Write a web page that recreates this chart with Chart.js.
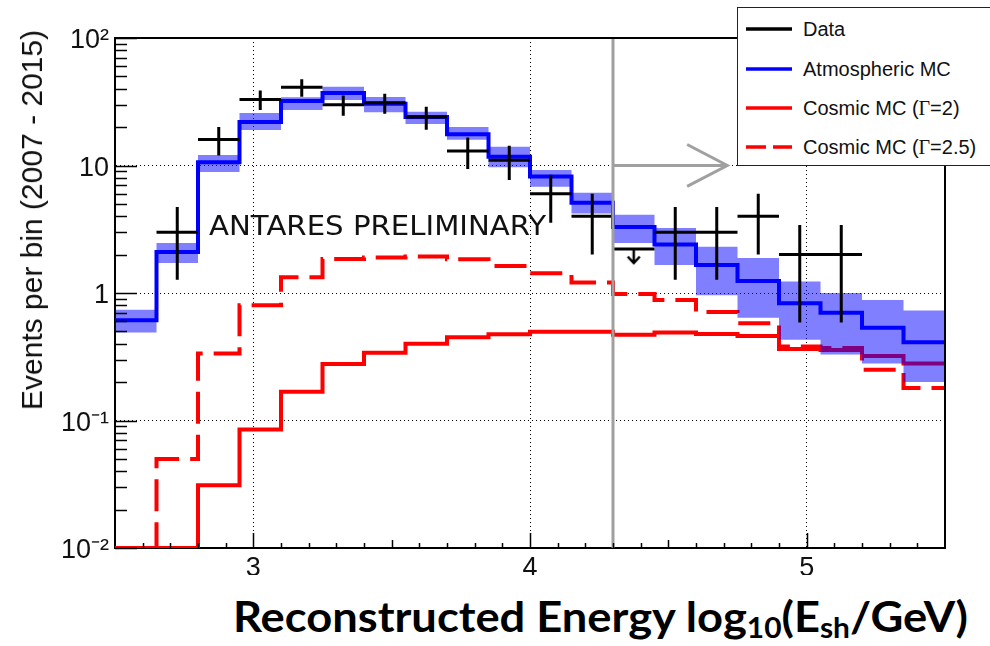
<!DOCTYPE html>
<html>
<head>
<meta charset="utf-8">
<script src="https://cdn.jsdelivr.net/npm/chart.js@4.4.1/dist/chart.umd.min.js"></script>
<style>
  html, body { margin: 0; padding: 0; background: #fff; }
  body { width: 990px; height: 646px; overflow: hidden; position: relative; font-family: 'Liberation Sans', Arial, sans-serif; color: #111; }
  #wrap { position: absolute; left: 0; top: 0; width: 990px; height: 575px; }
  #ytitle { position: absolute; left: 32px; top: 220px; transform: translate(-50%, -50%) rotate(-90deg); font-size: 30px; line-height: 30px; white-space: nowrap; }
  #prelim { position: absolute; left: 209px; top: 213px; font-family: 'DejaVu Sans', sans-serif; font-size: 26px; line-height: 26px; white-space: nowrap; transform-origin: 0 0; }
  #xtitle { position: absolute; left: 233px; top: 595px; font-family: Lato, 'Open Sans', sans-serif; font-weight: 700; font-size: 42px; line-height: 42px; white-space: nowrap; color: #000; transform-origin: 0 0; }
  #xtitle sub { font-size: 0.66em; line-height: 0; vertical-align: -0.22em; }
  #legend { position: absolute; left: 737px; top: 7px; width: 300px; height: 157px; border: 1.5px solid #222; background: #fff; }
  #legend .item { position: absolute; left: 8px; height: 20px; font-size: 20px; line-height: 20px; white-space: nowrap; }
  #legend svg { position: absolute; left: 0; top: 7px; }
  #legend span.t { position: absolute; left: 57px; top: 0; }
  .gam { font-family: 'Liberation Serif', serif; }
</style>
</head>
<body>
<div id="wrap"><canvas id="chart"></canvas></div>
<div id="ytitle">Events per bin (2007 - 2015)</div>
<div id="prelim">ANTARES PRELIMINARY</div>
<div id="legend">
  <div class="item" style="top:11px"><svg width="46" height="6"><line x1="0" y1="3" x2="46" y2="3" stroke="#000" stroke-width="3.5"/></svg><span class="t">Data</span></div>
  <div class="item" style="top:51px"><svg width="46" height="6"><line x1="0" y1="3" x2="46" y2="3" stroke="#0000ff" stroke-width="3.5"/></svg><span class="t">Atmospheric MC</span></div>
  <div class="item" style="top:90px"><svg width="46" height="6"><line x1="0" y1="3" x2="46" y2="3" stroke="#ff0000" stroke-width="3.5"/></svg><span class="t">Cosmic MC (<span class="gam">Γ</span>=2)</span></div>
  <div class="item" style="top:129px"><svg width="46" height="6"><line x1="0" y1="3" x2="20" y2="3" stroke="#ff0000" stroke-width="3.5"/><line x1="27" y1="3" x2="46" y2="3" stroke="#ff0000" stroke-width="3.5"/></svg><span class="t">Cosmic MC (<span class="gam">Γ</span>=2.5)</span></div>
</div>
<div id="xtitle">Reconstructed Energy log<sub>10</sub>(E<sub>sh</sub>/GeV)</div>

<script>
// bins of log10(E/GeV)
const binEdges = [2.5, 2.65, 2.8, 2.95, 3.1, 3.25, 3.4, 3.55, 3.7, 3.85, 4.0,
                  4.15, 4.3, 4.45, 4.6, 4.75, 4.9, 5.05, 5.2, 5.35, 5.5];

// atmospheric MC and its uncertainty band
const atmMC = [0.61, 2.1, 10.6, 21.9, 32, 37, 30.5, 24, 17.6, 11.7, 8.2, 5.1, 3.3, 2.4, 1.66, 1.24, 0.83, 0.70, 0.535, 0.41];
const atmHi = [0.74, 2.47, 12.1, 25.8, 34.3, 41.5, 34.4, 26.4, 20, 14, 9.2, 6.1, 4.1, 3.24, 2.31, 1.88, 1.23, 1.0, 0.88, 0.73];
const atmLo = [0.49, 1.72, 8.9, 19.0, 27.3, 32.6, 26.2, 21.2, 15.9, 9.7, 6.8, 4.2, 2.47, 1.66, 0.96, 0.64, 0.43, 0.33, 0.28, 0.2];

// cosmic signal MC
const cosmic2 = [0.01, 0.01, 0.031, 0.085, 0.168, 0.277, 0.34, 0.40, 0.45, 0.474, 0.497, 0.497, 0.47, 0.49, 0.477, 0.46, 0.364, 0.357, 0.32, 0.28];
const cosmic25 = [0.004, 0.05, 0.336, 0.8, 1.33, 1.85, 1.9, 1.93, 1.84, 1.63, 1.43, 1.21, 0.98, 0.88, 0.71, 0.58, 0.38, 0.37, 0.25, 0.18];

// observed events (null = no point drawn)
const dataCounts = [null, 3, 16, 33, 41, 30, 31, 24, 13, 11, 6, 4, null, 3, 3, 4, 2, 2, null, null];
const limitBin = 12;
const limitValue = 2.21;

// energy cut and arrow
const cutEnergy = 4.3;
const cutArrowY = 10;
const cutArrowTip = 4.713;
const cutArrowBack = 4.568;
const cutArrowWing = [14.6, 6.85];

const xTickValues = [3, 4, 5];
const yTickValues = [0.01, 0.1, 1, 10, 100];
const yTickLabels = ['10\u207B\u00B2', '10\u207B\u00B9', '1', '10', '10\u00B2'];

// -------------------- helpers --------------------
function histPoints(vals) {
  return binEdges.map((e, i) => ({ x: e, y: vals[Math.min(i, vals.length - 1)] }));
}

const crossPts = [];
dataCounts.forEach((n, i) => {
  if (n === null) return;
  const c = (binEdges[i] + binEdges[i + 1]) / 2;
  const err = Math.sqrt(n);
  crossPts.push({ x: binEdges[i], y: n }, { x: binEdges[i + 1], y: n }, { x: c, y: null },
                { x: c, y: n - err }, { x: c, y: n + err }, { x: c, y: null });
});
crossPts.push({ x: binEdges[limitBin], y: limitValue }, { x: binEdges[limitBin + 1], y: limitValue });

// small down arrow used as point style for the upper limit
const arrowImg = document.createElement('canvas');
arrowImg.width = 16; arrowImg.height = 34;
(function () {
  const c = arrowImg.getContext('2d');
  c.strokeStyle = '#000'; c.lineWidth = 2.5;
  c.beginPath();
  c.moveTo(8, 17); c.lineTo(8, 31);
  c.moveTo(2, 24.5); c.lineTo(8, 31); c.lineTo(14, 24.5);
  c.stroke();
})();

// ROOT style inward ticks + top/right frame
const rootAxes = {
  id: 'rootAxes',
  afterDatasetsDraw(chart) {
    const { ctx, chartArea: a, scales: { x, y } } = chart;
    ctx.save();
    ctx.strokeStyle = '#000';
    ctx.lineWidth = 1.5;
    ctx.beginPath();
    yTickValues.forEach(d => {
      for (let k = 1; k < 10; k++) {
        const v = d * k;
        if (v > 100.0001) break;
        const py = Math.round(y.getPixelForValue(v)) + 0.5;
        const len = k === 1 ? 22 : 12;
        ctx.moveTo(a.left, py); ctx.lineTo(a.left + len, py);
      }
    });
    for (let i = 1; i < 30; i++) {
      const v = 2.5 + i * 0.1;
      const px = Math.round(x.getPixelForValue(v)) + 0.5;
      const len = i % 10 === 5 ? 15 : (i % 10 === 0 ? 8 : 5);
      ctx.moveTo(px, a.bottom); ctx.lineTo(px, a.bottom - len);
    }
    ctx.stroke();
    ctx.lineWidth = 2;
    ctx.beginPath();
    ctx.moveTo(a.left, a.top); ctx.lineTo(a.right, a.top); ctx.lineTo(a.right, a.bottom);
    ctx.stroke();
    ctx.restore();
  }
};

Chart.defaults.font.family = "'Liberation Sans', Arial, sans-serif";

new Chart(document.getElementById('chart'), {
  type: 'line',
  data: {
    datasets: [
      { label: 'cut', data: [{ x: cutEnergy, y: 0.01 }, { x: cutEnergy, y: 100 }],
        borderColor: '#a0a0a0', borderWidth: 3, order: 0 },
      { label: 'cut arrow',
        data: [{ x: cutEnergy, y: cutArrowY }, { x: cutArrowTip, y: cutArrowY }, { x: cutArrowTip, y: null },
               { x: cutArrowBack, y: cutArrowWing[0] }, { x: cutArrowTip, y: cutArrowY }, { x: cutArrowBack, y: cutArrowWing[1] }],
        borderColor: '#a0a0a0', borderWidth: 3, order: 0 },
      { label: 'Data', data: crossPts, borderColor: '#000', borderWidth: 3, spanGaps: false, order: 1 },
      { label: 'limit', data: [{ x: (binEdges[limitBin] + binEdges[limitBin + 1]) / 2, y: limitValue }],
        showLine: false, pointStyle: arrowImg, pointRadius: 5, order: 1 },
      { label: 'Atmospheric MC', data: histPoints(atmMC), stepped: true,
        borderColor: '#0000ff', borderWidth: 4, order: 2 },
      { label: 'band hi', data: histPoints(atmHi), stepped: true, borderColor: 'rgba(0,0,0,0)',
        fill: '+1', backgroundColor: 'rgba(0,0,255,0.5)', order: 3 },
      { label: 'band lo', data: histPoints(atmLo), stepped: true, borderColor: 'rgba(0,0,0,0)', order: 4 },
      { label: 'Cosmic MC (\u0393=2)', data: histPoints(cosmic2), stepped: true,
        borderColor: '#ff0000', borderWidth: 4, order: 5 },
      { label: 'Cosmic MC (\u0393=2.5)', data: histPoints(cosmic25), stepped: true,
        borderColor: '#ff0000', borderWidth: 4, borderDash: [32, 11], order: 6 },
    ]
  },
  options: {
    responsive: true,
    maintainAspectRatio: false,
    animation: false,
    layout: { padding: { top: 38, right: 45, left: 0, bottom: 0 } },
    elements: { point: { radius: 0 }, line: { tension: 0 } },
    plugins: { legend: { display: false }, tooltip: { enabled: false } },
    scales: {
      x: {
        type: 'linear', min: 2.5, max: 5.5,
        afterBuildTicks: s => { s.ticks = xTickValues.map(v => ({ value: v })); },
        afterFit: s => { s.height = 27; },
        grid: { color: '#000', lineWidth: 1, drawTicks: false },
        border: { color: '#000', width: 2, dash: [1, 3] },
        ticks: { padding: 4, color: '#111', font: { size: 27 }, maxRotation: 0, autoSkip: false,
                 callback: v => String(v) }
      },
      y: {
        type: 'logarithmic', min: 0.01, max: 100,
        afterBuildTicks: s => { s.ticks = yTickValues.map(v => ({ value: v })); },
        afterFit: s => { s.width = 115; },
        grid: { color: '#000', lineWidth: 1, drawTicks: false },
        border: { color: '#000', width: 2, dash: [1, 3] },
        ticks: { padding: 6, labelOffset: 3, color: '#111', font: { size: 27 }, autoSkip: false,
                 callback: v => yTickLabels[yTickValues.indexOf(v)] }
      }
    }
  },
  plugins: [rootAxes]
});

// stretch overlay texts to the widths they have in the picture
function fitWidth(id, w) {
  const el = document.getElementById(id);
  const r = el.getBoundingClientRect().width;
  el.style.transform = 'scaleX(' + (w / r) + ')';
}
fitWidth('prelim', 337);
fitWidth('xtitle', 735);
</script>
</body>
</html>
